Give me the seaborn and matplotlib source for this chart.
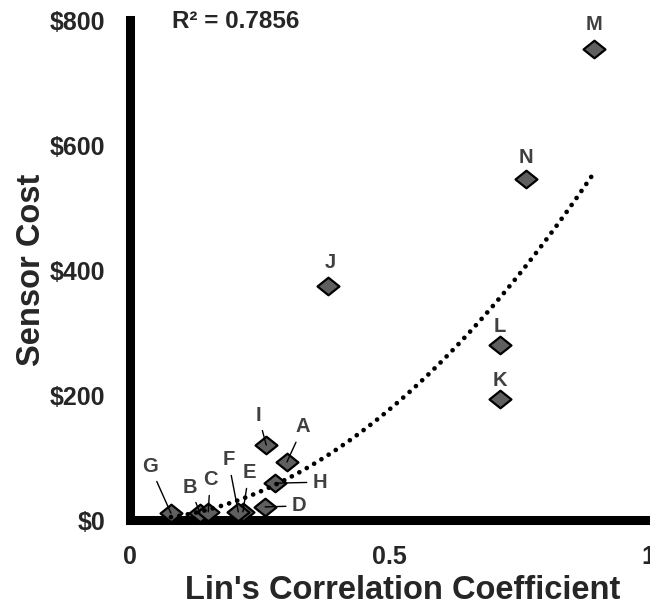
import numpy as np
import pandas as pd
import seaborn as sns
import matplotlib.pyplot as plt
from matplotlib.path import Path

# Sensor data
SENSORS = ["A", "B", "C", "D", "E", "F", "G", "H", "I", "J", "K", "L", "M", "N"]
LINS_CCC = [0.303, 0.135, 0.151, 0.261, 0.218, 0.209, 0.079, 0.280, 0.263,
            0.382, 0.714, 0.714, 0.896, 0.764]
SENSOR_COST = [93, 11, 13, 21, 13, 13, 11, 59, 120, 374, 193, 280, 754, 546]

Y_TICKS = [0, 200, 400, 600, 800]
Y_TICK_LABELS = ["$0", "$200", "$400", "$600", "$800"]
X_TICKS = [0, 0.5, 1]
X_TICK_LABELS = ["0", "0.5", "1"]
R2_TEXT = "R\u00b2 = 0.7856"

# label offsets from the marker in pixels, and whether a leader line is drawn
LABEL_OFFSETS = {
    "G": (-21, 47, True), "B": (-10, 26, True), "C": (2, 32, True),
    "F": (-10, 52, True), "E": (6, 39, True), "D": (34, 1, True),
    "H": (45, 1, True), "A": (16, 35, True), "I": (-8, 30, True),
    "J": (2, 24, False), "K": (0, 19, False), "L": (0, 19, False),
    "N": (0, 21, False), "M": (0, 24, False),
}

# slightly flattened diamond, as in the original
DIAMOND = Path([(-1, 0), (0, 0.8), (1, 0), (0, -0.8), (-1, 0)],
               [Path.MOVETO, Path.LINETO, Path.LINETO, Path.LINETO,
                Path.CLOSEPOLY])


def power_trend(x, y):
    """
    Excel style power trendline: fit ln(y) = ln(a) + b*ln(x).
    """
    b, ln_a = np.polyfit(np.log(x), np.log(y), 1)
    return np.exp(ln_a), b


def plot_chart(df):
    sns.set_style("white")
    plt.rcParams["font.family"] = ["Liberation Sans", "DejaVu Sans"]

    fig = plt.figure(figsize=(6.5, 6.08), dpi=100)
    ax = fig.add_axes([0.2, 0.1447, 0.797, 0.822])

    sns.scatterplot(data=df, x="ccc", y="cost", marker=DIAMOND, s=250,
                    color="#5f5f5f", edgecolor="black", linewidth=1.6,
                    ax=ax, zorder=3, legend=False)

    # dotted power trendline
    a, b = power_trend(df["ccc"], df["cost"])
    xs = np.linspace(df["ccc"].min(), df["ccc"].max(), 200)
    ax.plot(xs, a * xs ** b, color="black", lw=3.4,
            linestyle=(0, (0.01, 1.8)), dash_capstyle="round", zorder=4)

    for _, row in df.iterrows():
        dx, dy, leader = LABEL_OFFSETS[row["sensor"]]
        props = None
        if leader:
            props = dict(arrowstyle="-", color="black", lw=1.0,
                         shrinkA=2, shrinkB=0)
        ax.annotate(row["sensor"], xy=(row["ccc"], row["cost"]),
                    xytext=(dx, dy), textcoords="offset pixels",
                    ha="center", va="center", fontsize=14.5,
                    fontweight="bold", color="#404040",
                    arrowprops=props, zorder=5)

    ax.set_xlim(0, 1)
    ax.set_ylim(0, 800)
    ax.set_xticks(X_TICKS, X_TICK_LABELS)
    ax.set_yticks(Y_TICKS, Y_TICK_LABELS)
    ax.tick_params(direction="out", length=10, width=6.5, color="black",
                   labelsize=18, pad=8)
    for lab in ax.get_xticklabels() + ax.get_yticklabels():
        lab.set_fontweight("bold")

    sns.despine(ax=ax)
    for side in ["left", "bottom"]:
        ax.spines[side].set_linewidth(6.5)
        ax.spines[side].set_color("black")

    ax.set_xlabel("Lin's Correlation Coefficient", fontsize=23.5,
                  fontweight="bold")
    ax.set_ylabel("Sensor Cost", fontsize=23.5, fontweight="bold")
    ax.xaxis.set_label_coords(0.527, -0.11)
    ax.yaxis.set_label_coords(-0.16, 0.5)

    fig.text(172 / 650, 1 - 21 / 608, R2_TEXT, fontsize=17.5,
             fontweight="bold", va="center", ha="left")

    fig.savefig("out.png", dpi=100)


if __name__ == "__main__":
    data = pd.DataFrame({"sensor": SENSORS, "ccc": LINS_CCC,
                         "cost": SENSOR_COST})
    plot_chart(data)
